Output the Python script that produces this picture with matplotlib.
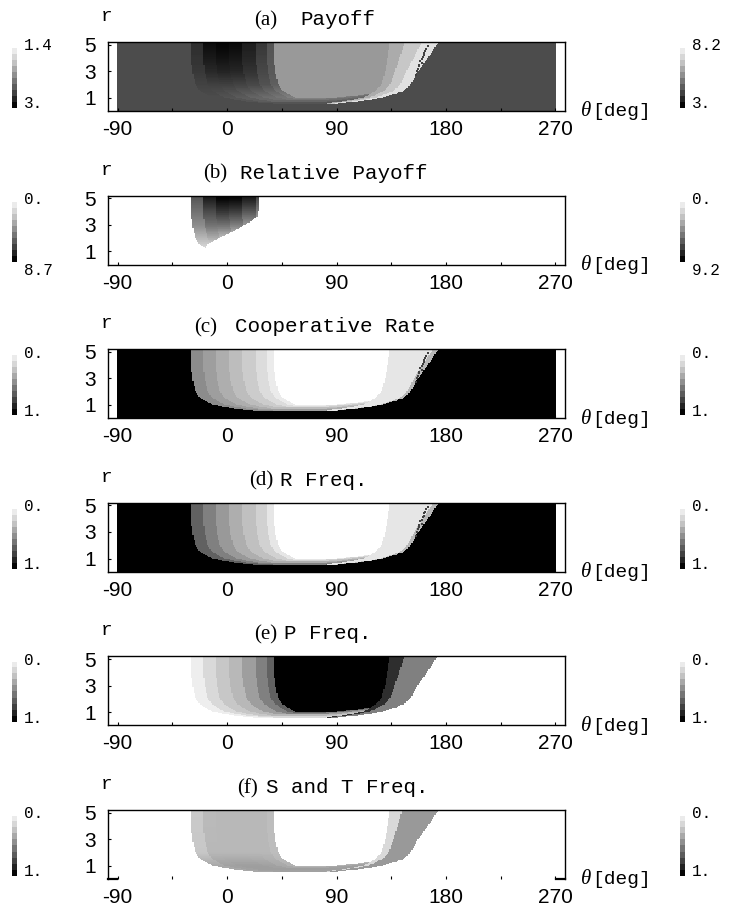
import matplotlib
matplotlib.use("Agg")
import matplotlib.pyplot as plt
import numpy as np

# Boundary of the non-trivial zone: theta [deg] of left / right edge at each r
edge_r = [0.5, 0.6, 0.8, 1.0, 1.5, 2.0, 3.0, 4.0, 5.2]
edge_left = [40, 15, 0, -12, -22, -26, -28.5, -29.5, -30]
edge_right = [80, 95, 115, 128, 145, 151, 157, 165, 174]
core_right = [75, 85, 100, 112, 122, 127, 130, 132, 134]

# Bands left of the core, by distance from the left edge [deg]
band_u = [0, 10, 20, 31, 42, 53, 62, 68]
band_r = [1, 2, 3, 4, 5]

# gray levels (0 black, 1 white), one row per r in band_r
payoff_bands = [
    [0.30, 0.33, 0.36, 0.40, 0.43, 0.46, 0.50],
    [0.26, 0.25, 0.25, 0.26, 0.28, 0.32, 0.37],
    [0.22, 0.16, 0.14, 0.15, 0.20, 0.28, 0.35],
    [0.20, 0.10, 0.07, 0.09, 0.15, 0.25, 0.34],
    [0.18, 0.05, 0.02, 0.04, 0.12, 0.22, 0.33],
]
rel_payoff_bands = [
    [0.90, 1.00, 1.00, 1.00, 1.00, 1.00, 1.00],
    [0.72, 0.68, 0.75, 0.85, 1.00, 1.00, 1.00],
    [0.55, 0.45, 0.45, 0.50, 0.60, 0.75, 1.00],
    [0.45, 0.30, 0.22, 0.25, 0.35, 0.50, 1.00],
    [0.35, 0.12, 0.02, 0.03, 0.12, 0.30, 1.00],
]
coop_bands = [[0.55, 0.62, 0.68, 0.74, 0.80, 0.86, 0.92]]
r_freq_bands = [[0.38, 0.50, 0.60, 0.68, 0.75, 0.82, 0.90]]
p_freq_bands = [[0.93, 0.85, 0.78, 0.72, 0.62, 0.50, 0.38]]
st_freq_bands = [
    [0.66, 0.63, 0.62, 0.62, 0.63, 0.66, 0.70],
    [0.78, 0.72, 0.72, 0.72, 0.72, 0.72, 0.74],
    [0.79, 0.73, 0.72, 0.72, 0.72, 0.72, 0.74],
]
st_band_r = [1, 2, 5]

# blob cut-off of relative payoff (band distance at each r)
rel_cut_r = [1.3, 2.2, 3.0, 3.7, 5.2]
rel_cut_u = [0, 24, 43, 55, 57]

# right strip: fraction of strip width from the right edge -> gray level
payoff_right = ([0.35, 0.7, 1.01], [0.88, 0.78, 0.67])
coop_right = ([0.12, 1.01], [0.72, 0.90])
p_freq_right = ([0.7, 1.01], [0.50, 0.18])
st_right = ([0.75, 1.01], [0.60, 0.85])

core_level = [0.60, 1.0, 1.0, 1.0, 0.0, 1.0]
outside_level = [0.30, 1.0, 0.0, 0.0, 1.0, 1.0]

# dark specks along the right edge (panels a, c, d)
speck_theta = [164, 162, 161, 159, 158, 157, 160, 163, 165, 156, 155, 160, 162, 158]
speck_r = [4.7, 4.4, 4.1, 3.8, 3.5, 3.2, 3.9, 4.5, 4.9, 3.0, 2.7, 3.6, 4.2, 3.4]

titles = [("(a)", "Payoff"), ("(b)", "Relative Payoff"), ("(c)", "Cooperative Rate"),
          ("(d)", "R Freq."), ("(e)", "P Freq."), ("(f)", "S and T Freq.")]
tag_right = [277, 227, 217, 273, 277, 258]
title_x = [300, 240, 235, 280, 284, 266]
left_labels = [("1.4", "3."), ("0.", "8.7"), ("0.", "1."), ("0.", "1."), ("0.", "1."), ("0.", "1.")]
right_labels = [("8.2", "3."), ("0.", "9.2"), ("0.", "1."), ("0.", "1."), ("0.", "1."), ("0.", "1.")]
cbar_steps = [0.92, 0.84, 0.76, 0.66, 0.56, 0.46, 0.36, 0.26, 0.14, 0.02]

theta_ticks = [-90, 0, 90, 180, 270]
theta_minor = [-45, 45, 135, 225]
r_ticks = [1, 3, 5]

MONO = "Liberation Mono"
SERIF = "Liberation Serif"
SANS = "Liberation Sans"

W, H = 736, 915


def fx(x):
    return x / W


def fy(y):
    return 1 - y / H


# grid of the density plot
theta = np.arange(-90, 271, 1.0)
r = np.arange(0.025, 5.2, 0.05)
T, R = np.meshgrid(theta, r)


def make_field(rows, rows_r, core, outside, right, cut_r=None, cut_u=None):
    rows = np.array(rows, dtype=float)
    left = np.interp(R, edge_r, edge_left)
    rgt = np.interp(R, edge_r, edge_right)
    crt = np.interp(R, edge_r, core_right)
    inside = (R >= edge_r[0]) & (T >= left) & (T <= rgt)

    # r of the lower boundary for every theta
    r_low = np.where(T < edge_left[0], np.interp(T, edge_left[::-1], edge_r[::-1]),
                     np.where(T > edge_right[0], np.interp(T, edge_right, edge_r), edge_r[0]))
    u = np.minimum(T - left, 150 * (R - r_low))

    k = np.clip(np.searchsorted(band_u, u, side="right") - 1, 0, len(band_u) - 2)
    band_val = np.zeros_like(T)
    for j in range(len(band_u) - 1):
        col = np.interp(R, rows_r, rows[:, j]) if len(rows) > 1 else np.full_like(R, rows[0, j])
        band_val = np.where(k == j, col, band_val)

    cut = np.interp(R, cut_r, cut_u) if cut_r is not None else band_u[-1]

    frac = (rgt - T) / np.maximum(rgt - crt, 1e-6)
    right_val = np.full_like(T, right[1][-1])
    for th, lev in zip(right[0][::-1], right[1][::-1]):
        right_val = np.where(frac < th, lev, right_val)

    val = np.where(u >= cut, core, band_val)
    val = np.where(T > crt, right_val, val)
    return np.where(inside, val, outside)


fields = [
    make_field(payoff_bands, band_r, core_level[0], outside_level[0], payoff_right),
    make_field(rel_payoff_bands, band_r, core_level[1], outside_level[1], ([1.01], [1.0]),
               rel_cut_r, rel_cut_u),
    make_field(coop_bands, band_r, core_level[2], outside_level[2], coop_right),
    make_field(r_freq_bands, band_r, core_level[3], outside_level[3], coop_right),
    make_field(p_freq_bands, band_r, core_level[4], outside_level[4], p_freq_right),
    make_field(st_freq_bands, st_band_r, core_level[5], outside_level[5], st_right),
]

fig = plt.figure(figsize=(W / 100, H / 100), dpi=100)

for i in range(6):
    top = 42 + 153.6 * i
    ax = fig.add_axes([fx(108), fy(top + 69), 457 / W, 69 / H])
    ax.imshow(fields[i], cmap="gray", vmin=0, vmax=1, origin="lower", aspect="auto",
              interpolation="nearest", extent=[-90.5, 270.5, 0, 5.2])
    if i in (0, 2, 3):
        ax.scatter(speck_theta, speck_r, s=1.5, marker="s", color="0.25", linewidths=0)
    ax.set_xlim(-98, 278)
    ax.set_ylim(0, 5.2)
    ax.set_xticks(theta_ticks)
    ax.set_xticks(theta_minor, minor=True)
    ax.set_xticklabels(["-90", "0", "90", "180", "270"], fontfamily=SANS, fontsize=15)
    ax.set_yticks(r_ticks)
    ax.set_yticklabels([str(v) for v in r_ticks], fontfamily=SANS, fontsize=15)
    ax.tick_params(axis="x", which="both", direction="in", length=2.5, width=0.8, pad=6.5)
    ax.tick_params(axis="y", which="both", direction="in", length=2.5, width=0.8, pad=9)
    for s in ax.spines.values():
        s.set_linewidth(1.0)
    if i == 5:
        # last panel has no bottom frame line, only the corner stubs
        ax.spines["bottom"].set_visible(False)
        ax.plot([-98, -91], [0, 0], color="black", lw=1.6, clip_on=False)
        ax.plot([271, 278], [0, 0], color="black", lw=1.6, clip_on=False)

    # axis names
    fig.text(fx(107), fy(top - 21), "r", fontfamily=MONO, fontsize=14, ha="center", va="baseline")
    fig.text(fx(581), fy(top + 70), "\u03b8", fontfamily=SERIF, style="italic", fontsize=15,
             ha="left", va="center")
    fig.text(fx(592), fy(top + 70), "[deg]", fontfamily=MONO, fontsize=14, ha="left", va="center")

    # title: serif tag + typewriter text
    tag, name = titles[i]
    fig.text(fx(tag_right[i]), fy(top - 17), tag, fontfamily=SERIF, fontsize=15,
             ha="right", va="baseline")
    fig.text(fx(title_x[i]), fy(top - 17), name, fontfamily=MONO, fontsize=15,
             ha="left", va="baseline")

    # stepped gray legends on both sides
    for x0, labels in [(12, left_labels[i]), (680, right_labels[i])]:
        cax = fig.add_axes([fx(x0), fy(top + 66), 5 / W, 60 / H])
        cax.imshow(np.array(cbar_steps)[:, None], cmap="gray", vmin=0, vmax=1,
                   aspect="auto", interpolation="nearest")
        cax.axis("off")
        fig.text(fx(x0 + 12), fy(top + 4), labels[0], fontfamily=MONO, fontsize=11.5,
                 ha="left", va="center")
        bottom_y = top + 75 if i == 1 else top + 62
        fig.text(fx(x0 + 12), fy(bottom_y), labels[1], fontfamily=MONO, fontsize=11.5,
                 ha="left", va="center")

fig.savefig("out.png", dpi=100)
